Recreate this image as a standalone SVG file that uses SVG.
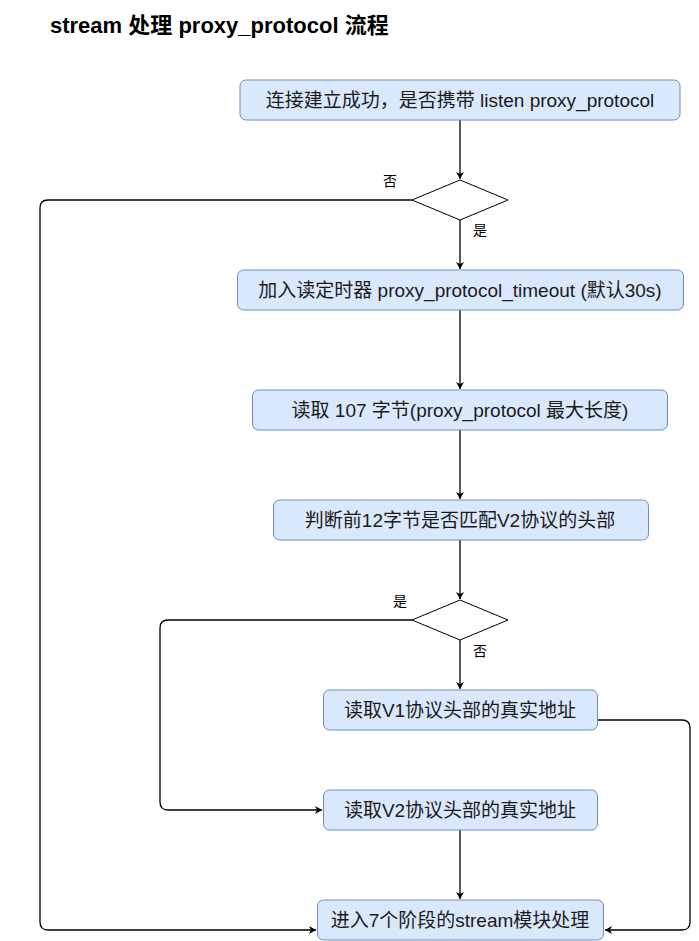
<svg xmlns="http://www.w3.org/2000/svg" width="699" height="941" viewBox="0 0 699 941">
<defs>
<style>
.box{fill:#dae8fc;stroke:#6c8ebf;stroke-width:1}
.dia{fill:#fff;stroke:#000;stroke-width:1}
.t{font-family:"Liberation Sans","Noto Sans CJK SC",sans-serif;font-size:19px;fill:#1a1a1a;text-anchor:middle;dominant-baseline:central}
.lbl{font-family:"Liberation Sans","Noto Sans CJK SC",sans-serif;font-size:14px;fill:#000;text-anchor:middle;dominant-baseline:central}
.title{font-family:"Liberation Sans","Noto Sans CJK SC",sans-serif;font-size:22px;font-weight:bold;fill:#000}
.c{fill:none;stroke:#000;stroke-width:1.3;marker-end:url(#ah)}
</style>
<marker id="ah" markerWidth="10" markerHeight="10" refX="8" refY="5" orient="auto" markerUnits="userSpaceOnUse">
<path d="M1,1 L8,5 L1,9 L3,5 Z" fill="#000"/>
</marker>
</defs>
<rect width="699" height="941" fill="#fff"/>
<text class="title" x="50" y="33">stream 处理 proxy_protocol 流程</text>

<g id="connectors">
<path class="c" d="M460,120 V179"/>
<path class="c" d="M460,220 V269"/>
<path class="c" d="M460,310 V389"/>
<path class="c" d="M460,430 V499"/>
<path class="c" d="M460,540 V599"/>
<path class="c" d="M460,640 V689"/>
<path class="c" d="M460,830 V899"/>
<path class="c" d="M412,200 H48 Q40,200 40,208 V922 Q40,930 48,930 H316"/>
<path class="c" d="M412,620 H168 Q160,620 160,628 V802 Q160,810 168,810 H322"/>
<path class="c" d="M597,720 H682 Q690,720 690,728 V922 Q690,930 682,930 H605"/>
</g>

<g id="n1"><rect class="box" x="240" y="80" width="440" height="40" rx="6"/><text class="t" x="460" y="100">连接建立成功，是否携带 listen proxy_protocol</text></g>
<g id="d1"><polygon class="dia" points="460,180 508,200 460,220 412,200"/></g>
<g id="l1"><text class="lbl" x="390" y="181">否</text><text class="lbl" x="480" y="230">是</text></g>
<g id="n2"><rect class="box" x="237.5" y="270" width="446" height="40" rx="6"/><text class="t" x="460" y="290">加入读定时器 proxy_protocol_timeout (默认30s)</text></g>
<g id="n3"><rect class="box" x="252.5" y="390" width="415" height="40" rx="6"/><text class="t" x="460" y="410">读取 107 字节(proxy_protocol 最大长度)</text></g>
<g id="n4"><rect class="box" x="273.5" y="500" width="375" height="40" rx="6"/><text class="t" x="460" y="520">判断前12字节是否匹配V2协议的头部</text></g>
<g id="d2"><polygon class="dia" points="460,600 508,620 460,640 412,620"/></g>
<g id="l2"><text class="lbl" x="400" y="601">是</text><text class="lbl" x="480" y="651">否</text></g>
<g id="n5"><rect class="box" x="323.5" y="690" width="274" height="40" rx="6"/><text class="t" x="460" y="710">读取V1协议头部的真实地址</text></g>
<g id="n6"><rect class="box" x="323.5" y="790" width="274" height="40" rx="6"/><text class="t" x="460" y="810">读取V2协议头部的真实地址</text></g>
<g id="n7"><rect class="box" x="317.5" y="900" width="286" height="40" rx="6"/><text class="t" x="460" y="920">进入7个阶段的stream模块处理</text></g>
</svg>
